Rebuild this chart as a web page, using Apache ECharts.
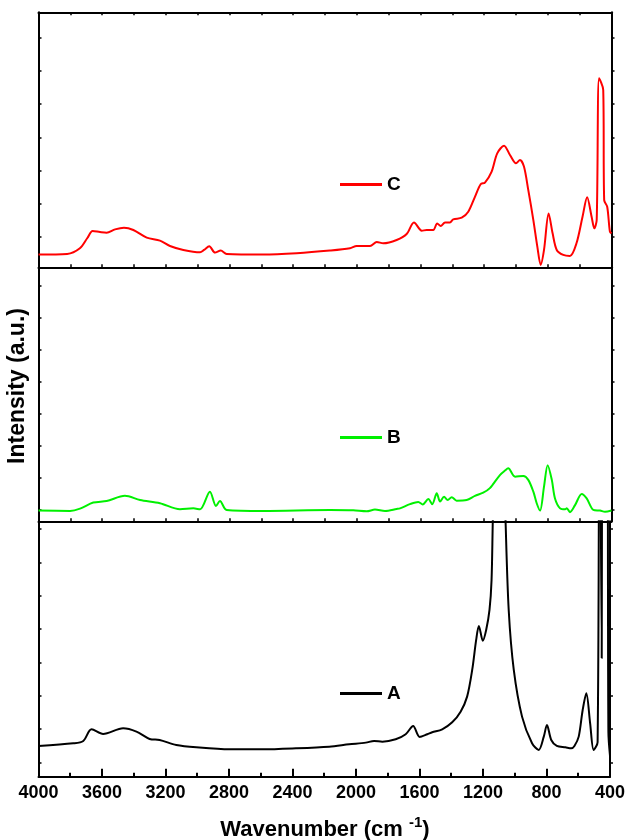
<!DOCTYPE html>
<html>
<head>
<meta charset="utf-8">
<title>FTIR spectra A, B, C</title>
<script src="https://cdn.jsdelivr.net/npm/echarts@6/dist/echarts.min.js"></script>
<style>
  html, body { margin: 0; padding: 0; background: #ffffff; }
  #chart { width: 628px; height: 840px; }
</style>
</head>
<body>
<div id="chart"></div>
<script>
// ---- Spectrum C (top panel) ----
const cWavenumber = [4000, 3820, 3740, 3693, 3660, 3614, 3572, 3519, 3463, 3404, 3320, 3237, 3174, 3090, 2985, 2960, 2927, 2891, 2855, 2818, 2588, 2378, 2169, 2043, 2001, 1917, 1875, 1834, 1750, 1687, 1641, 1592, 1561, 1520, 1495, 1473, 1446, 1415, 1394, 1341, 1300, 1258, 1222, 1195, 1153, 1118, 1075, 1038, 1000, 975, 950, 923, 891, 866, 845, 824, 795, 770, 744, 703, 661, 620, 582, 553, 525, 508, 493, 478, 452, 446, 427, 410, 400];
const cIntensity = [-0.53, -0.51, -0.34, -0.03, 0.18, 0.15, 0.13, 0.23, 0.28, 0.21, -0.02, -0.11, -0.27, -0.39, -0.46, -0.39, -0.28, -0.47, -0.41, -0.51, -0.53, -0.49, -0.41, -0.34, -0.27, -0.27, -0.15, -0.19, -0.09, 0.09, 0.44, 0.19, 0.21, 0.21, 0.41, 0.33, 0.44, 0.44, 0.53, 0.58, 0.76, 1.21, 1.59, 1.64, 1.97, 2.52, 2.75, 2.47, 2.22, 2.32, 2.12, 1.42, 0.51, -0.29, -0.84, -0.39, 0.71, 0.11, -0.39, -0.54, -0.57, -0.19, 0.61, 1.20, 0.61, 0.26, 0.51, 4.78, 4.43, 1.11, 0.91, 0.16, 0.11];

// ---- Spectrum B (middle panel) ----
const bWavenumber = [4000, 3802, 3739, 3656, 3572, 3457, 3362, 3237, 3111, 3027, 2985, 2923, 2885, 2860, 2818, 2588, 2169, 2022, 1938, 1886, 1823, 1750, 1729, 1666, 1614, 1586, 1551, 1526, 1498, 1477, 1452, 1429, 1404, 1373, 1310, 1258, 1206, 1164, 1101, 1069, 1049, 1006, 954, 923, 891, 870, 849, 824, 801, 775, 755, 723, 691, 681, 661, 629, 587, 556, 514, 472, 441, 400];
const bIntensity = [-0.04, -0.05, 0.02, 0.21, 0.26, 0.42, 0.29, 0.19, 0.00, 0.03, 0.00, 0.55, 0.10, 0.26, -0.02, -0.05, -0.02, -0.03, -0.06, -0.01, -0.05, 0.01, 0.03, 0.16, 0.23, 0.15, 0.32, 0.16, 0.50, 0.24, 0.39, 0.29, 0.38, 0.27, 0.29, 0.42, 0.52, 0.66, 1.07, 1.21, 1.28, 1.02, 1.04, 0.92, 0.55, 0.19, -0.04, 0.71, 1.38, 0.92, 0.34, 0.03, 0.00, 0.03, -0.09, 0.13, 0.48, 0.34, -0.02, -0.04, -0.08, -0.04];

// ---- Spectrum A (bottom panel) ----
const aWavenumber = [4000, 3781, 3718, 3666, 3593, 3467, 3383, 3300, 3237, 3132, 3006, 2797, 2588, 2378, 2169, 2043, 1938, 1886, 1834, 1750, 1687, 1640, 1599, 1551, 1520, 1457, 1394, 1341, 1300, 1268, 1243, 1226, 1201, 1180, 1159, 1146, 1138, 1100, 1058, 1038, 1006, 954, 891, 849, 817, 797, 770, 735, 681, 644, 624, 597, 572, 549, 525, 503, 478, 466, 452, 446, 420, 410, 400];
const aIntensity = [0.49, 0.57, 0.64, 0.99, 0.85, 1.02, 0.92, 0.70, 0.67, 0.52, 0.45, 0.39, 0.39, 0.42, 0.47, 0.54, 0.59, 0.64, 0.62, 0.69, 0.84, 1.09, 0.76, 0.84, 0.90, 0.99, 1.20, 1.52, 1.97, 2.77, 3.67, 4.09, 3.65, 3.97, 4.57, 5.47, 7.27, 14.0, 7.27, 4.57, 2.77, 1.37, 0.57, 0.37, 0.77, 1.12, 0.67, 0.49, 0.45, 0.42, 0.49, 0.77, 1.57, 2.07, 1.17, 0.37, 0.60, 14.0, 3.13, 14.0, 14.0, 0.90, 0.20];

// Intensity ticks (a.u.) and visible range of each panel
const cTicks = [0, 1, 2, 3, 4, 5, 6];
const bTicks = [0, 1, 2, 3, 4, 5, 6, 7];
const aTicks = [0, 1, 2, 3, 4, 5, 6, 7];
const cRange = [-0.913, 6.768];
const bRange = [-0.375, 7.5625];
const aRange = [-0.432, 7.23];

// Wavenumber axis (cm-1), drawn high to low
const wnMin = 400;
const wnMax = 4000;
const wnLabelStep = 400;
const wnMinorStep = 200;

const FONT = '"Liberation Sans", Arial, Helvetica, sans-serif';
const toPairs = (w, v) => w.map((x, i) => [x, v[i]]);

const chart = echarts.init(document.getElementById('chart'), null, { renderer: 'canvas' });

const frameLine = { show: true, onZero: false, lineStyle: { color: '#000', width: 2 } };

function edgeXAxis(gridIndex, position) {
  return {
    type: 'value', gridIndex, position, inverse: true,
    min: wnMin, max: wnMax, interval: wnMinorStep,
    axisLine: frameLine,
    axisTick: { show: true, inside: true, length: 3, lineStyle: { color: '#000', width: 1.5 } },
    axisLabel: { show: false },
    splitLine: { show: false }
  };
}

function intensityAxis(gridIndex, position, range, ticks) {
  return {
    type: 'value', gridIndex, position,
    min: range[0], max: range[1],
    axisLine: frameLine,
    axisTick: { show: true, inside: position === 'left', length: 3, customValues: ticks,
      lineStyle: { color: '#000', width: 1.5 } },
    axisLabel: { show: false, customValues: ticks },
    splitLine: { show: false }
  };
}

function legendFor(name, top) {
  return {
    data: [name], left: 340, top, padding: 0,
    icon: 'rect', itemWidth: 42, itemHeight: 3,
    itemStyle: { borderWidth: 0 },
    textStyle: { color: '#000', fontFamily: FONT, fontWeight: 'bold', fontSize: 19 },
    selectedMode: false
  };
}

function spectrum(name, xIdx, yIdx, w, v, color) {
  return {
    name, type: 'line', xAxisIndex: xIdx, yAxisIndex: yIdx,
    data: toPairs(w, v),
    showSymbol: false, symbol: 'none', clip: true,
    smooth: 0.3,
    lineStyle: { color, width: 2, join: 'round' }, itemStyle: { color }
  };
}

const option = {
  backgroundColor: '#ffffff',
  animation: false,
  grid: [
    { left: 38.5, right: 16.5, top: 12.3, height: 255 },
    { left: 38.5, right: 16.5, top: 267.3, height: 254 },
    { left: 38.5, right: 16.5, top: 521.3, height: 255.4 }
  ],
  xAxis: [
    edgeXAxis(0, 'bottom'),
    edgeXAxis(0, 'top'),
    edgeXAxis(1, 'bottom'),
    {
      type: 'value', gridIndex: 2, position: 'bottom', inverse: true,
      min: wnMin, max: wnMax, interval: wnLabelStep,
      axisLine: frameLine,
      axisTick: { show: true, inside: true, length: 8, lineStyle: { color: '#000', width: 2 } },
      minorTick: { show: true, splitNumber: 2, length: 4, lineStyle: { color: '#000', width: 2 } },
      axisLabel: { show: true, margin: 7, color: '#000', fontFamily: FONT, fontWeight: 'bold', fontSize: 18,
        formatter: (val) => String(val) },
      splitLine: { show: false }
    }
  ],
  yAxis: [
    intensityAxis(0, 'left', cRange, cTicks),
    intensityAxis(0, 'right', cRange, cTicks),
    intensityAxis(1, 'left', bRange, bTicks),
    intensityAxis(1, 'right', bRange, bTicks),
    intensityAxis(2, 'left', aRange, aTicks),
    intensityAxis(2, 'right', aRange, aTicks)
  ],
  legend: [
    legendFor('C', 175),
    legendFor('B', 428),
    legendFor('A', 684)
  ],
  series: [
    spectrum('C', 0, 0, cWavenumber, cIntensity, '#ff0000'),
    spectrum('B', 2, 2, bWavenumber, bIntensity, '#00f000'),
    spectrum('A', 3, 4, aWavenumber, aIntensity, '#000000')
  ],
  graphic: [
    {
      type: 'text', x: 18, y: 386, rotation: Math.PI / 2,
      style: {
        text: 'Intensity (a.u.)', fill: '#000', font: 'bold 23px ' + FONT,
        align: 'center', verticalAlign: 'middle'
      }
    },
    {
      type: 'text', x: 325, y: 828,
      style: {
        text: '{t|Wavenumber (cm }{s|-1}{t|)}',
        align: 'center', verticalAlign: 'middle',
        rich: {
          t: { fill: '#000', fontFamily: FONT, fontWeight: 'bold', fontSize: 22, lineHeight: 26, verticalAlign: 'bottom' },
          s: { fill: '#000', fontFamily: FONT, fontWeight: 'bold', fontSize: 15, lineHeight: 26, verticalAlign: 'top' }
        }
      }
    }
  ]
};

chart.setOption(option);
</script>
</body>
</html>
